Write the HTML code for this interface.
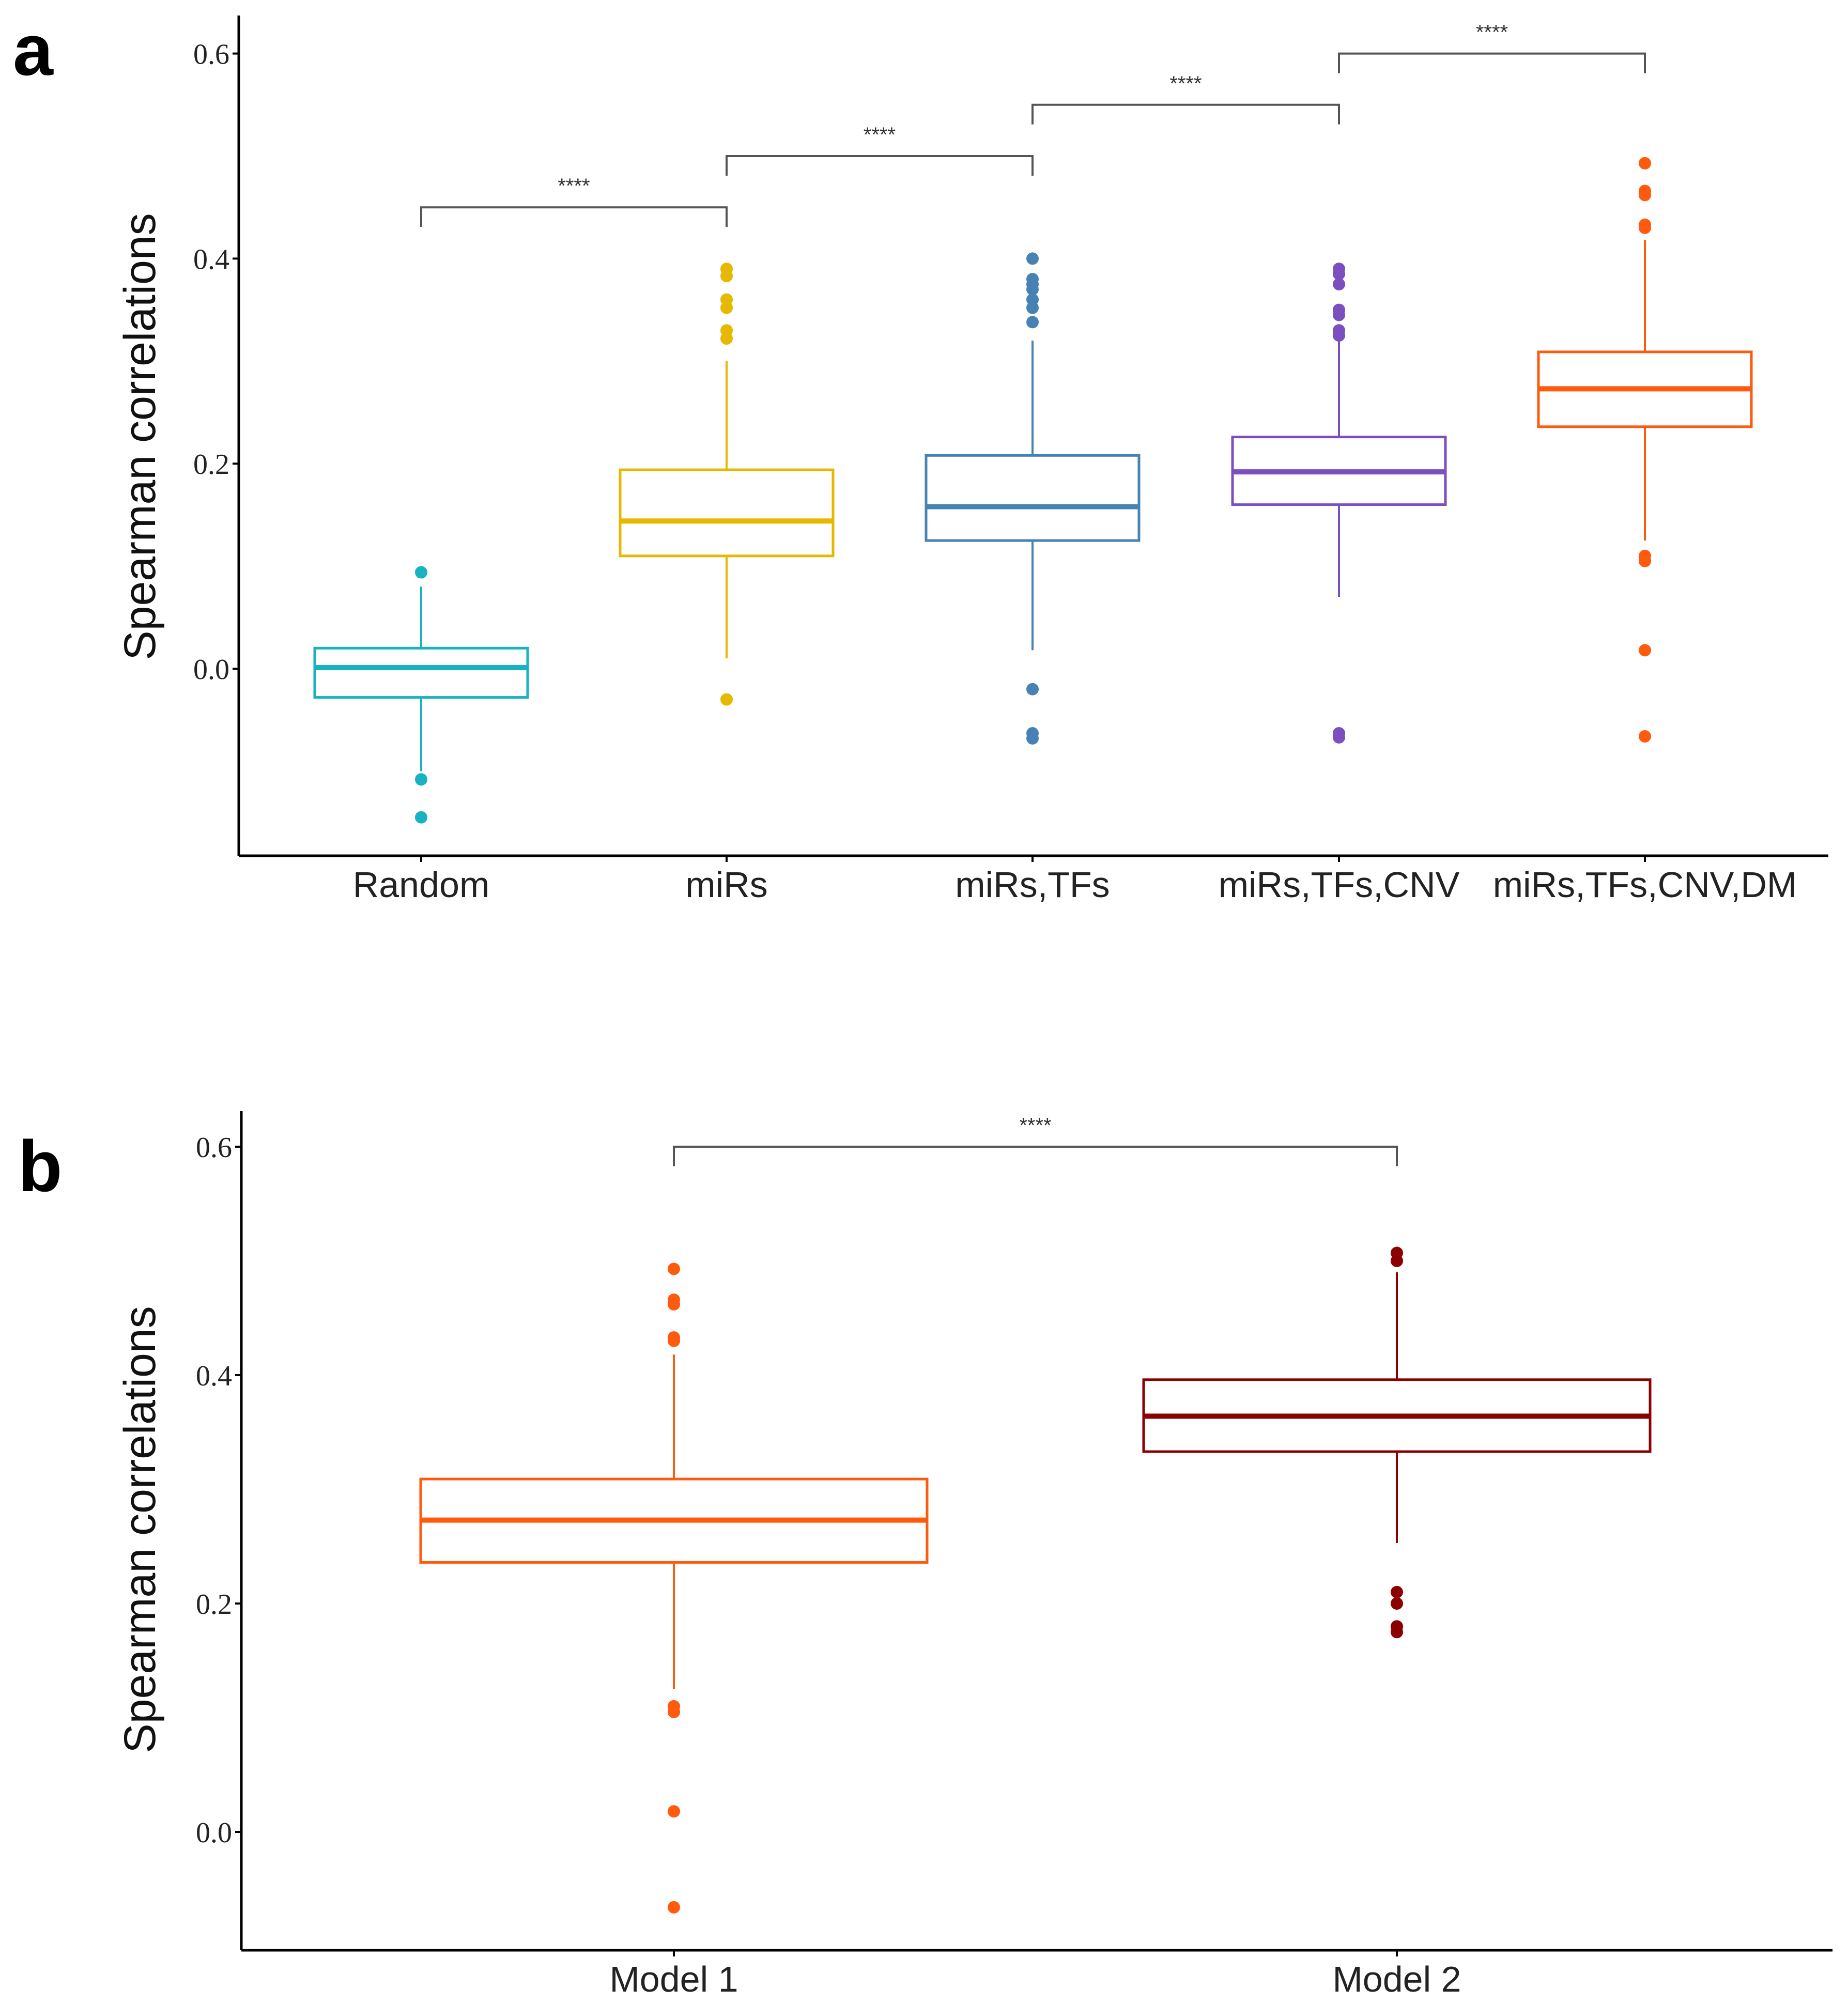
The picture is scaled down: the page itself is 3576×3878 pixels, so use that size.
<!DOCTYPE html>
<html><head><meta charset="utf-8"><style>html,body{margin:0;padding:0;background:#fff}svg{display:block}</style></head>
<body>
<svg id="fig" width="3576" height="3878" xmlns="http://www.w3.org/2000/svg" font-family="Liberation Sans, sans-serif"></svg>
<script>
// Panel a data
const catsA = ["Random","miRs","miRs,TFs","miRs,TFs,CNV","miRs,TFs,CNV,DM"];
const colorsA = ["#17b3c1","#e6b800","#4682b4","#7b4fbf","#ff5a0e"];
const q1A = [-0.028,0.110,0.125,0.160,0.236];
const medA = [0.001,0.144,0.158,0.192,0.273];
const q3A = [0.020,0.194,0.208,0.226,0.309];
const loA = [-0.100,0.010,0.018,0.070,0.125];
const hiA = [0.080,0.300,0.320,0.325,0.418];
const outA = [[0.094,-0.108,-0.145],[0.390,0.383,0.360,0.352,0.330,0.322,-0.030],[0.400,0.380,0.375,0.370,0.360,0.352,0.338,-0.020,-0.063,-0.068],[0.390,0.385,0.375,0.350,0.345,0.330,0.325,-0.063,-0.067],[0.493,0.466,0.462,0.433,0.430,0.110,0.105,0.018,-0.066]];
const ticksA = [0.0,0.2,0.4,0.6];
const bracketsA = [[0,1,0.45],[1,2,0.50],[2,3,0.55],[3,4,0.60]];
// Panel b data
const catsB = ["Model 1","Model 2"];
const colorsB = ["#ff5a0e","#8b0000"];
const q1B = [0.236,0.333];
const medB = [0.273,0.364];
const q3B = [0.309,0.396];
const loB = [0.125,0.253];
const hiB = [0.418,0.490];
const outB = [[0.493,0.466,0.462,0.433,0.430,0.110,0.105,0.018,-0.066],[0.507,0.500,0.210,0.200,0.180,0.175]];
const ticksB = [0.0,0.2,0.4,0.6];
const bracketsB = [[0,1,0.60]];

const NS="http://www.w3.org/2000/svg";
const svg=document.getElementById('fig');
function mk(tag,attrs,parent){const e=document.createElementNS(NS,tag);for(const k in attrs)e.setAttribute(k,attrs[k]);(parent||svg).appendChild(e);return e;}

function panel(P){
  const g=mk('g',{});
  
  
  const y=v=>P.y0-(v)*P.perUnit;
  const x=i=>P.xs[i];
  const ya=mk('line',{x1:P.ax,y1:P.top,x2:P.ax,y2:P.bottom,stroke:'#000','stroke-width':5},g);
  
  const xa=mk('line',{x1:P.ax,y1:P.bottom,x2:P.right,y2:P.bottom,stroke:'#000','stroke-width':5},g);
  
  P.ticks.forEach(t=>{
    mk('line',{x1:P.ax-12,x2:P.ax,y1:y(t),y2:y(t),stroke:'#000','stroke-width':4},g);
    const tl=mk('text',{x:P.ax-18,y:y(t)+20,'text-anchor':'end','font-size':56,'font-family':'Liberation Serif, serif',fill:'#222'},g);
    tl.textContent=t.toFixed(1);
    
  });
  const yt=mk('text',{x:0,y:0,'text-anchor':'middle','font-size':86,fill:'#111',transform:`translate(${P.titleX},${P.titleY}) rotate(-90)`},g);
  yt.textContent='Spearman correlations';
  
  const pl=mk('text',{x:P.letterX,y:P.letterY,'font-size':140,'font-weight':'bold',fill:'#000'},g);
  pl.textContent=P.letter;
  
  P.cats.forEach((c,i)=>{
    const col=P.colors[i],cx=x(i),hw=P.hw;
    mk('line',{x1:cx,x2:cx,y1:P.bottom,y2:P.bottom+12,stroke:'#000','stroke-width':4},g);
    const xl=mk('text',{x:cx,y:P.bottom+80,'text-anchor':'middle','font-size':70,fill:'#222'},g);
    xl.textContent=c;
    
    const bg=mk('g',{},g);
    
    
    mk('line',{x1:cx,x2:cx,y1:y(P.hi[i]),y2:y(P.q3[i]),stroke:col,'stroke-width':4},bg);
    mk('line',{x1:cx,x2:cx,y1:y(P.q1[i]),y2:y(P.lo[i]),stroke:col,'stroke-width':4},bg);
    mk('rect',{x:cx-hw,y:y(P.q3[i]),width:2*hw,height:y(P.q1[i])-y(P.q3[i]),fill:'#fff',stroke:col,'stroke-width':5},bg);
    mk('line',{x1:cx-hw,x2:cx+hw,y1:y(P.med[i]),y2:y(P.med[i]),stroke:col,'stroke-width':10},bg);
    P.out[i].forEach(v=>{mk('circle',{cx:cx,cy:y(v),r:12,fill:col},bg);});
  });
  P.brackets.forEach(b=>{
    const bg=mk('g',{},g);
    
    const yy=y(b[2]),d=P.drop;
    mk('polyline',{points:`${x(b[0])},${yy+d} ${x(b[0])},${yy} ${x(b[1])},${yy} ${x(b[1])},${yy+d}`,fill:'none',stroke:'#555','stroke-width':4},bg);
    const st=mk('text',{x:(x(b[0])+x(b[1]))/2,y:yy-28,'text-anchor':'middle','font-size':40,fill:'#333'},bg);
    st.textContent='****';
  });
}
panel({name:'panel-a',letter:'a',letterX:25,letterY:145,ax:462,top:30,bottom:1656,right:3538,y0:1294,perUnit:1984,xs:[815,1406,1998,2591,3183],hw:206,titleX:300,titleY:845,drop:38,
  cats:catsA,colors:colorsA,q1:q1A,med:medA,q3:q3A,lo:loA,hi:hiA,out:outA,ticks:ticksA,brackets:bracketsA});
panel({name:'panel-b',letter:'b',letterX:35,letterY:2305,ax:467,top:2150,bottom:3774,right:3546,y0:3545,perUnit:2210,xs:[1304,2703],hw:490,titleX:300,titleY:2960,drop:38,
  cats:catsB,colors:colorsB,q1:q1B,med:medB,q3:q3B,lo:loB,hi:hiB,out:outB,ticks:ticksB,brackets:bracketsB});
</script>
</body></html>
